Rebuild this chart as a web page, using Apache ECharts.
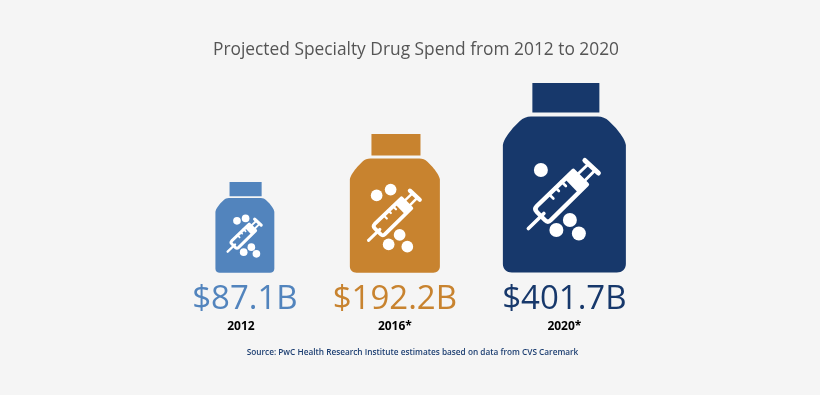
<!DOCTYPE html>
<html><head><meta charset="utf-8">
<style>html,body{margin:0;padding:0;background:#f5f5f5}#c{width:820px;height:395px}</style>
<script src="https://cdn.jsdelivr.net/npm/echarts@6/dist/echarts.min.js"></script>
</head><body><div id="c"></div>
<script>
const years = ['2012', '2016*', '2020*'];
const spendBillions = [87.1, 192.2, 401.7];
const spendLabels = ['$87.1B', '$192.2B', '$401.7B'];
const titleText = 'Projected Specialty Drug Spend from 2012 to 2020';
const sourceText = 'Source: PwC Health Research Institute estimates based on data from CVS Caremark';

// Styling and layout (not data)
const colors = ['#5284bd', '#c8832f', '#17386b'];
const FONT = '"Open Sans", sans-serif';
const sizeTweak = [0.975, 1.003, 0.948];   // source icons are only roughly area-proportional
const xShift = [0, -9.75, 0];
const yearDX = [-4, 0, 0];
const strokeBoost = [1.35, 1.15, 1];
const dotRadius = [8, 8, 7];
const D_W = 123, D_H = 190;                // design space of the bottle drawing
const BODY = 'M0,62 C1,56 6,50 10,45 L17,38 C20,35 24,33.5 28,33.5 L95,33.5 C99,33.5 103,35 106,38 L113,45 C117,50 122,56 123,62 L123,181 C123,186 119,189.5 114,189.5 L9,189.5 C4,189.5 0,186 0,181 Z';
const CAP = 'M29.5,0 L96.5,0 L96.5,29.5 L29.5,29.5 Z';
const BARREL = 'M34,123 L70.5,88 L84,101.5 L48,137 C46,139 44,139 42,137 L34,129 C32,127 32,125 34,123 Z';
const PLUNGER = 'M62,96 L70.5,88 L84,101.5 L75.5,110 Z';
const NEEDLE = 'M25.5,145.5 L41,130.5';
const ROD = 'M75,91 L85,81.5 M81.5,98 L91,88.5';
const HANDLE = 'M82,77.5 L95.5,90';
const TICKS = 'M46,111 L50.5,115.5 M52.5,104.5 L56,108 M58.5,98.5 L63,103';
const DOT_SETS = [
  [[45, 81], [63, 76], [75, 136], [59, 146.5], [85.6, 150]],
  [[36.6, 84], [55.7, 76], [68, 138], [53, 151], [78.5, 154]],
  [[38, 87], [67, 137], [53.5, 147], [76, 150.5]]
];

function renderBottle(params, api) {
  const i = api.value(0);
  const top = api.coord([i, Math.sqrt(api.value(1))]);
  const base = api.coord([i, 0]);
  const h = (base[1] - top[1]) * sizeTweak[i];
  const s = h / D_H;
  const cx = base[0] + xShift[i];
  const paint = (pathData, style) => ({ type: 'path', shape: { pathData }, style });
  const line = w => ({ fill: null, stroke: '#fff', lineWidth: w * strokeBoost[i], lineCap: 'round', lineJoin: 'round' });
  const dots = DOT_SETS[i].map(d => ({
    type: 'circle', shape: { cx: d[0], cy: d[1], r: dotRadius[i] }, style: { fill: '#fff' }
  }));
  return {
    type: 'group',
    children: [
      {
        type: 'group', x: cx - D_W * s / 2, y: base[1] - h, scaleX: s, scaleY: s,
        children: [
          paint(BODY, { fill: colors[i] }),
          paint(CAP, { fill: colors[i] }),
          paint(BARREL, line(4.5)),
          paint(PLUNGER, { fill: '#fff' }),
          paint(NEEDLE, line(3.6)),
          paint(ROD, line(3)),
          paint(HANDLE, line(5)),
          paint(TICKS, line(2.6))
        ].concat(dots)
      },
      {
        type: 'text', x: cx, y: base[1] + 27,
        style: { text: spendLabels[i], font: '33px ' + FONT, fill: colors[i], align: 'center', verticalAlign: 'middle' }
      },
      {
        type: 'text', x: cx + yearDX[i], y: base[1] + 54,
        style: { text: years[i], font: 'bold 12px ' + FONT, fill: '#000', align: 'center', verticalAlign: 'middle' }
      }
    ]
  };
}

const chart = echarts.init(document.getElementById('c'), null, { renderer: 'canvas' });
chart.setOption({
  animation: false,
  backgroundColor: '#f5f5f5',
  title: [
    { text: titleText, left: 411, top: 37, textAlign: 'center',
      textStyle: { fontFamily: FONT, fontSize: 17.35, fontWeight: 'normal', color: '#555' } },
    { text: sourceText, left: 407.5, top: 344, textAlign: 'center',
      textStyle: { fontFamily: FONT, fontSize: 8.25, fontWeight: 600, color: '#1d3f72' } }
  ],
  grid: { left: 165, width: 479.25, top: 23, height: 250 },
  xAxis: { type: 'category', data: years, show: false },
  yAxis: { type: 'value', min: 0, max: 25, show: false },
  series: [{
    type: 'custom',
    renderItem: renderBottle,
    clip: false,
    data: spendBillions.map((v, i) => [i, v]),
    encode: { x: 0, y: 1 }
  }]
});
</script></body></html>
